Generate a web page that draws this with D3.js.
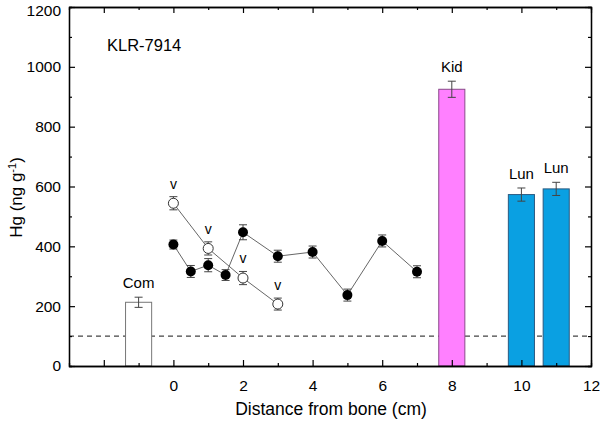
<!DOCTYPE html>
<html>
<head>
<meta charset="utf-8">
<script src="https://cdn.jsdelivr.net/npm/d3@7"></script>
<style>
  body { margin: 0; background: #fff; }
  text { font-family: "Liberation Sans", Arial, sans-serif; }
</style>
</head>
<body>
<div id="chart"></div>
<script>
// Filled circles series
const filled_x = [0, 0.5, 1, 1.5, 2, 3, 4, 5, 6, 7];
const filled_y = [406, 316, 337, 304, 447, 367, 381, 237, 418, 315];
const filled_err = [15, 20, 22, 18, 25, 20, 20, 20, 20, 20];

// Open circles series (v)
const open_x = [0, 1, 2, 3];
const open_y = [544, 393, 294, 207];
const open_err = [22, 22, 22, 20];

// Bars
const bar_names = ["Com", "Kid", "Lun", "Lun"];
const bar_x = [-1, 8, 10, 11];
const bar_y = [213, 925, 573, 592];
const bar_err = [17, 27, 22, 22];
const bar_fill = ["#ffffff", "#ff80ff", "#0aa0e2", "#0aa0e2"];
const bar_stroke = ["#777777", "#8a4a8a", "#2a5a80", "#2a5a80"];

const x_ticks = [0, 2, 4, 6, 8, 10, 12];
const y_ticks = [0, 200, 400, 600, 800, 1000, 1200];
const threshold = 100;

let margin = {top: 7, right: 9, bottom: 55, left: 69},
    width = 600 - margin.left - margin.right,
    height = 421 - margin.top - margin.bottom;

let svg = d3.select("#chart")
.append("svg")
.attr("width", 600)
.attr("height", 421)
.append("g")
.attr("transform", "translate(" + margin.left + "," + margin.top + ")");

let x = d3.scaleLinear().domain([-3, 12]).range([0, width]);
let y = d3.scaleLinear().domain([0, 1200]).range([height, 0]);

// Dashed threshold line
svg.append("line")
.attr("x1", 0).attr("x2", width)
.attr("y1", y(threshold)).attr("y2", y(threshold))
.attr("stroke", "#444").attr("stroke-width", 1.2)
.attr("stroke-dasharray", "5,4");

// Bars
const bw = x(0.75) - x(0);
bar_x.forEach((bx, i) => {
  svg.append("rect")
  .attr("x", x(bx) - bw / 2)
  .attr("y", y(bar_y[i]))
  .attr("width", bw)
  .attr("height", height - y(bar_y[i]))
  .attr("fill", bar_fill[i])
  .attr("stroke", bar_stroke[i])
  .attr("stroke-width", 1);
});

// Error bar helper
const errBar = (cx, v, e) => {
  let g = svg.append("g").attr("stroke", "#444").attr("stroke-width", 1);
  g.append("line").attr("x1", x(cx)).attr("x2", x(cx)).attr("y1", y(v - e)).attr("y2", y(v + e));
  g.append("line").attr("x1", x(cx) - 4).attr("x2", x(cx) + 4).attr("y1", y(v - e)).attr("y2", y(v - e));
  g.append("line").attr("x1", x(cx) - 4).attr("x2", x(cx) + 4).attr("y1", y(v + e)).attr("y2", y(v + e));
};

bar_x.forEach((bx, i) => errBar(bx, bar_y[i], bar_err[i]));

// Bar labels
bar_x.forEach((bx, i) => {
  svg.append("text")
  .attr("x", x(bx))
  .attr("y", y(bar_y[i] + bar_err[i]) - 9)
  .attr("text-anchor", "middle")
  .style("font-size", "15px")
  .text(bar_names[i]);
});

// Lines
let line = d3.line().x(d => x(d[0])).y(d => y(d[1]));
svg.append("path")
.datum(filled_x.map((d, i) => [d, filled_y[i]]))
.attr("d", line).attr("fill", "none").attr("stroke", "#555").attr("stroke-width", 0.9);
svg.append("path")
.datum(open_x.map((d, i) => [d, open_y[i]]))
.attr("d", line).attr("fill", "none").attr("stroke", "#555").attr("stroke-width", 0.9);

filled_x.forEach((fx, i) => errBar(fx, filled_y[i], filled_err[i]));
open_x.forEach((ox, i) => errBar(ox, open_y[i], open_err[i]));

svg.selectAll(".filled")
.data(filled_x)
.enter().append("circle")
.attr("cx", d => x(d))
.attr("cy", (d, i) => y(filled_y[i]))
.attr("r", 5)
.attr("fill", "#000");

svg.selectAll(".open")
.data(open_x)
.enter().append("circle")
.attr("cx", d => x(d))
.attr("cy", (d, i) => y(open_y[i]))
.attr("r", 5)
.attr("fill", "#fff")
.attr("stroke", "#333")
.attr("stroke-width", 1);

// "v" labels
open_x.forEach((ox, i) => {
  svg.append("text")
  .attr("x", x(ox))
  .attr("y", y(open_y[i] + open_err[i]) - 8)
  .attr("text-anchor", "middle")
  .style("font-size", "14px")
  .text("v");
});

// Axes
const styleAxis = g => {
  g.select(".domain").attr("stroke", "#000").attr("stroke-width", 1.3);
  g.selectAll(".tick line").attr("stroke", "#000").attr("stroke-width", 1.2);
  g.selectAll("text").style("font-size", "15.5px").style("font-family", "Liberation Sans, Arial, sans-serif").attr("fill", "#000");
};

// bottom major
svg.append("g")
.attr("transform", "translate(0," + height + ")")
.call(d3.axisBottom(x).tickValues([-2].concat(x_ticks)).tickSizeInner(-6).tickSizeOuter(0).tickPadding(14)
  .tickFormat(d => d < 0 ? "" : d))
.call(styleAxis);
// bottom minor
svg.append("g")
.attr("transform", "translate(0," + height + ")")
.call(d3.axisBottom(x).tickValues([-1, 1, 3, 5, 7, 9, 11]).tickSize(-3).tickFormat(""))
.call(styleAxis);
// top
svg.append("g")
.call(d3.axisTop(x).tickValues([-2].concat(x_ticks)).tickSizeInner(-6).tickSizeOuter(0).tickFormat(""))
.call(styleAxis);
svg.append("g")
.call(d3.axisTop(x).tickValues([-1, 1, 3, 5, 7, 9, 11]).tickSize(-3).tickFormat(""))
.call(styleAxis);

// left
let y_axis = svg.append("g")
.call(d3.axisLeft(y).tickValues(y_ticks).tickSizeInner(-6).tickSizeOuter(0).tickPadding(8).tickFormat(d3.format("d")))
.call(styleAxis);
// keep the top label inside the picture
y_axis.selectAll(".tick text").filter(d => d === 1200).attr("dy", "0.52em");
svg.append("g")
.call(d3.axisLeft(y).tickValues([100, 300, 500, 700, 900, 1100]).tickSize(-3).tickFormat(""))
.call(styleAxis);
// right
svg.append("g")
.attr("transform", "translate(" + width + ",0)")
.call(d3.axisRight(y).tickValues(y_ticks).tickSizeInner(-6).tickSizeOuter(0).tickFormat(""))
.call(styleAxis);
svg.append("g")
.attr("transform", "translate(" + width + ",0)")
.call(d3.axisRight(y).tickValues([100, 300, 500, 700, 900, 1100]).tickSize(-3).tickFormat(""))
.call(styleAxis);

// Sample label
svg.append("text")
.attr("x", 38)
.attr("y", 44)
.style("font-size", "16.5px")
.text("KLR-7914");

// Axis labels
svg.append("text")
.attr("x", width / 2 + 1)
.attr("y", height + 49)
.attr("text-anchor", "middle")
.style("font-size", "17.5px")
.text("Distance from bone (cm)");

let yl = svg.append("text")
.attr("transform", "rotate(-90)")
.attr("x", -height / 2 - 11)
.attr("y", -47)
.attr("text-anchor", "middle")
.style("font-size", "17px");
yl.append("tspan").text("Hg (ng g");
yl.append("tspan").attr("dy", -6).style("font-size", "11px").text("-1");
yl.append("tspan").attr("dy", 6).text(")");
</script>
</body>
</html>
